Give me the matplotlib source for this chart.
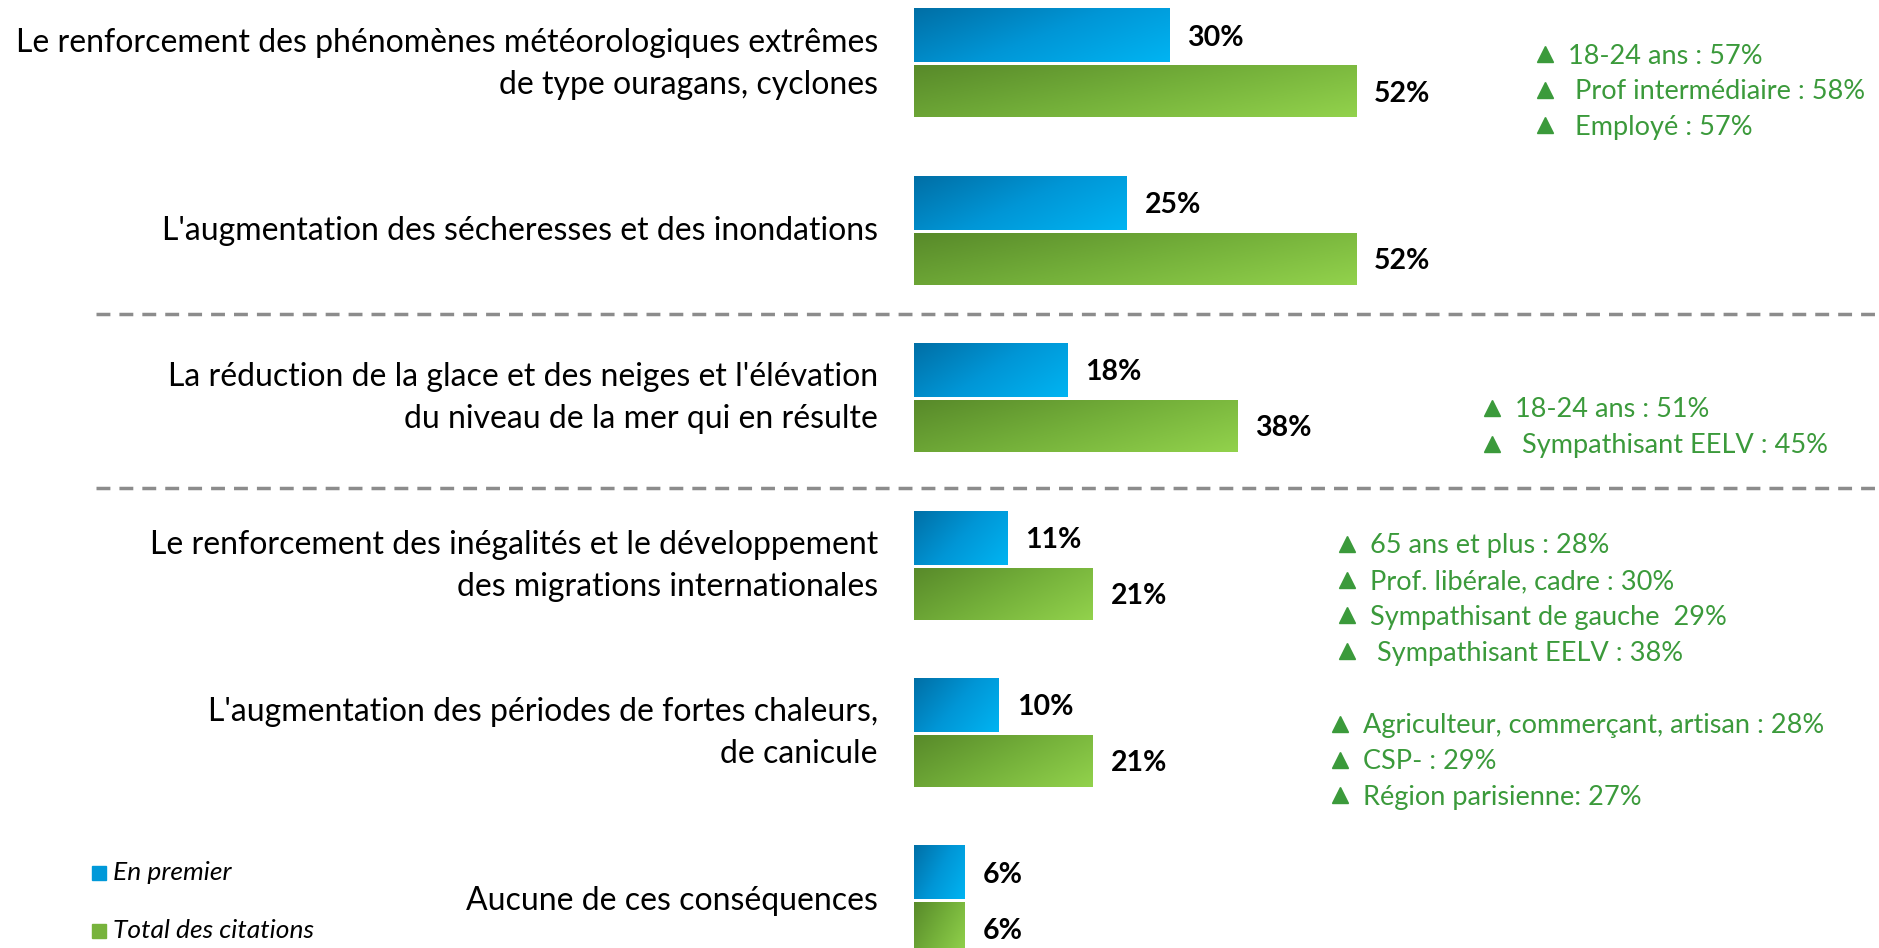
import matplotlib
matplotlib.use('Agg')
import matplotlib.pyplot as plt
from matplotlib.colors import LinearSegmentedColormap
import numpy as np

plt.rcParams['font.family'] = ['Lato', 'DejaVu Sans']

# DATA
categories = [
    "Le renforcement des phénomènes météorologiques extrêmes\nde type ouragans, cyclones",
    "L'augmentation des sécheresses et des inondations",
    "La réduction de la glace et des neiges et l'élévation\ndu niveau de la mer qui en résulte",
    "Le renforcement des inégalités et le développement\ndes migrations internationales",
    "L'augmentation des périodes de fortes chaleurs,\nde canicule",
    "Aucune de ces conséquences",
]
en_premier = [30, 25, 18, 11, 10, 6]
total_citations = [52, 52, 38, 21, 21, 6]
series_names = ["En premier", "Total des citations"]

notes = [
    ["18-24 ans : 57%", " Prof intermédiaire : 58%", " Employé : 57%"],
    [],
    ["18-24 ans : 51%", " Sympathisant EELV : 45%"],
    ["65 ans et plus : 28%", "Prof. libérale, cadre : 30%",
     "Sympathisant de gauche  29%", " Sympathisant EELV : 38%"],
    ["Agriculteur, commerçant, artisan : 28%", "CSP- : 29%", "Région parisienne: 27%"],
    [],
]

# LAYOUT (pixels of the 1879x948 canvas)
W, H = 1879, 948
X0_PX = 914          # where 0% sits
PX_PER_PCT = 8.5
Y0_PX = 63.5         # centre of first group
PX_PER_GROUP = 167.4
note_tri_px = [1545, None, 1492, 1347, 1340, None]
note_top_px = [56, None, 410, 546, 726, None]
NOTE_STEP = 35.7

BLUE = LinearSegmentedColormap.from_list('b', ['#006fa6', '#0096d6', '#00b4f2'])
GREEN = LinearSegmentedColormap.from_list('g', ['#588a2a', '#74b03a', '#92d24c'])
NOTE_GREEN = '#3b9a3b'


def gradient_bars(ax, bars, cmap):
    ny, nx = 40, 200
    xx, yy = np.meshgrid(np.linspace(0, 1, nx), np.linspace(0, 1, ny))
    grad = 0.65 * xx + 0.35 * yy
    for b in bars:
        x0, y0 = b.get_x(), b.get_y()
        x1, y1 = x0 + b.get_width(), y0 + b.get_height()
        b.set_facecolor('none')
        im = ax.imshow(grad, extent=[x0, x1, y1, y0], cmap=cmap, aspect='auto',
                       interpolation='bilinear', zorder=2)
        im.set_clip_path(b)


def main():
    fig = plt.figure(figsize=(W / 100, H / 100), dpi=100)
    ax = fig.add_axes([0, 0, 1, 1])
    ax.axis('off')

    xlim = (-X0_PX / PX_PER_PCT, (W - X0_PX) / PX_PER_PCT)
    ylim = ((H - Y0_PX) / PX_PER_GROUP, -Y0_PX / PX_PER_GROUP)

    y = np.arange(len(categories))
    hb, hg = 54 / PX_PER_GROUP, 52 / PX_PER_GROUP
    bars_b = ax.barh(y - 0.168, en_premier, height=hb, linewidth=0)
    bars_g = ax.barh(y + 0.167, total_citations, height=hg, linewidth=0)
    gradient_bars(ax, bars_b, BLUE)
    gradient_bars(ax, bars_g, GREEN)

    off = 18 / PX_PER_PCT
    for i, (v1, v2) in enumerate(zip(en_premier, total_citations)):
        ax.text(v1 + off, i - 0.155, f"{v1}%", fontsize=20.5, fontweight='bold',
                va='center', ha='left', color='black')
        ax.text(v2 + off, i + 0.18, f"{v2}%", fontsize=20.5, fontweight='bold',
                va='center', ha='left', color='black')
        ax.text(-36 / PX_PER_PCT, i, categories[i], fontsize=23, ha='right',
                va='center', color='black', linespacing=1.5)

    # separators
    for ysep in (1.497, 2.536):
        ax.axhline(ysep, xmin=96 / W, xmax=1.0, color='#8c8c8c', lw=2.5,
                   ls=(0, (4, 2.6)), zorder=1)

    # notes
    for i, lines in enumerate(notes):
        for k, t in enumerate(lines):
            ypx = note_top_px[i] + k * NOTE_STEP
            ax.plot([note_tri_px[i] / W], [1 - (ypx - 2) / H], marker='^',
                    color=NOTE_GREEN, markersize=11, transform=fig.transFigure,
                    clip_on=False)
            fig.text((note_tri_px[i] + 23) / W, 1 - ypx / H, t, fontsize=19.5,
                     color=NOTE_GREEN, va='center', ha='left')

    # legend
    for k, (name, cmap) in enumerate(zip(series_names, [BLUE, GREEN])):
        ypx = 873 + k * 58
        fig.patches.append(plt.Rectangle((92 / W, 1 - (ypx + 7) / H), 14 / W, 14 / H,
                                         transform=fig.transFigure,
                                         color=cmap(0.55)))
        fig.text(113 / W, 1 - ypx / H, name, fontsize=19, style='italic',
                 va='center', ha='left', color='black')

    ax.set_xlim(*xlim)
    ax.set_ylim(*ylim)
    fig.savefig('out.png', dpi=100)
    plt.close(fig)


if __name__ == "__main__":
    main()
